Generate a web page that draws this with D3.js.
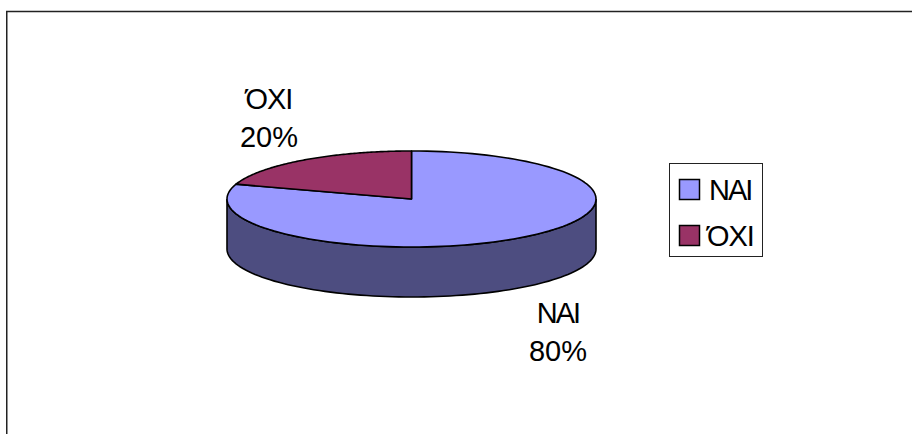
<!DOCTYPE html>
<html><head><meta charset="utf-8">
<script src="https://cdn.jsdelivr.net/npm/d3@7"></script>
<style>html,body{margin:0;background:#fff}svg{display:block}text{font-family:"Liberation Sans",Arial,sans-serif;fill:#000}</style>
</head><body><svg width="912" height="434"></svg>
<script>
const categories = ["ΝΑΙ", "ΌΧΙ"];
const values = [80, 20];
const colors = ["#9999FF", "#993366"];
const sideColor = "#4D4D80";

const svg = d3.select("svg");
svg.append("path").attr("d", "M6.75,434V11.5H912").attr("fill", "none").attr("stroke", "#222").attr("stroke-width", 1.5);

const cx = 411.5, cy = 199, rx = 184.5, ry = 48, depth = 50;
const g = svg.append("g");
const total = d3.sum(values);
const pie = d3.pie().value(d => d).sort(null)(values);

const px = d3.scaleLinear().domain([-1, 1]).range([cx - rx, cx + rx]);
const py = d3.scaleLinear().domain([-1, 1]).range([cy - ry, cy + ry]);
const ellipsePoint = (a, dy = 0) => [px(Math.sin(a)), py(-Math.cos(a)) + dy];

const front = d3.range(0, 181, 2).map(i => Math.PI / 2 + i * Math.PI / 180);
const wall = front.map(a => ellipsePoint(a, 0)).concat(front.slice().reverse().map(a => ellipsePoint(a, depth)));
g.append("path").attr("d", d3.line()(wall) + "Z").attr("fill", sideColor).attr("stroke", "#000").attr("stroke-width", 1.6);

pie.forEach((s, i) => {
  const steps = d3.range(0, 121).map(k => s.startAngle + (s.endAngle - s.startAngle) * k / 120);
  const pts = [[cx, cy]].concat(steps.map(a => ellipsePoint(a)));
  g.append("path").attr("d", d3.line()(pts) + "Z").attr("fill", colors[i]).attr("stroke", "#000").attr("stroke-width", 1.6).attr("stroke-linejoin", "round");
});

const wordSpacing = ["-2px", "-1px"];
const labels = [{x: 558, y1: 323, y2: 361}, {x: 269, y1: 109, y2: 147}];
labels.forEach((l, i) => {
  const t = svg.append("text").attr("text-anchor", "middle").attr("font-size", 29);
  t.append("tspan").attr("x", l.x).attr("y", l.y1).style("letter-spacing", wordSpacing[i]).text(categories[i]);
  t.append("tspan").attr("x", l.x).attr("y", l.y2).text(values[i] / total * 100 + "%");
});

svg.append("rect").attr("x", 669.5).attr("y", 163.5).attr("width", 93).attr("height", 93).attr("fill", "#fff").attr("stroke", "#222").attr("stroke-width", 1);
const ly = [200, 246];
const lx = [709, 707];
categories.forEach((c, i) => {
  svg.append("rect").attr("x", 679.5).attr("y", ly[i] - 20.5).attr("width", 20).attr("height", 20).attr("fill", colors[i]).attr("stroke", "#000").attr("stroke-width", 1.5);
  svg.append("text").attr("x", lx[i]).attr("y", ly[i]).attr("font-size", 29).style("letter-spacing", wordSpacing[i]).text(c);
});
</script></body></html>
